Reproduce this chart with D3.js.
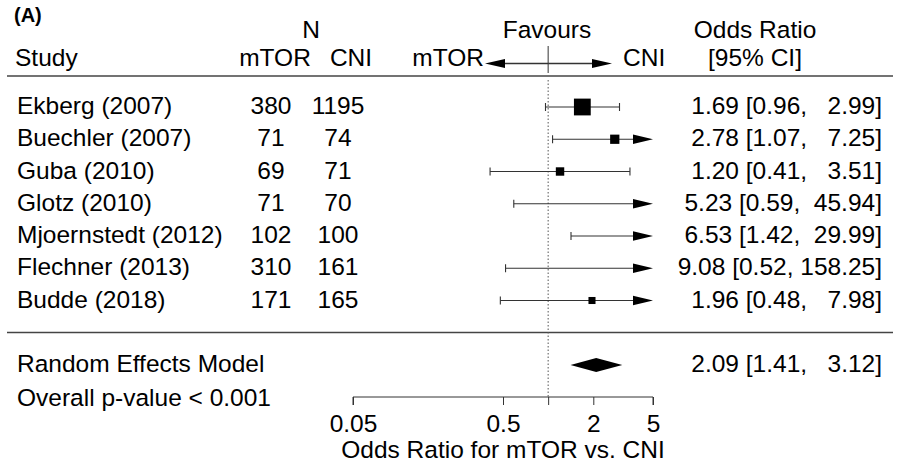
<!DOCTYPE html>
<html><head><meta charset="utf-8">
<script src="https://cdn.jsdelivr.net/npm/d3@7"></script>
<style>
body{margin:0;background:#fff;}
svg text{font-family:"Liberation Sans",Arial,Helvetica,sans-serif;fill:#000;}
</style></head>
<body><svg id="c" width="898" height="465"></svg>
<script>
// ---- data ----
const studies = ["Ekberg (2007)","Buechler (2007)","Guba (2010)","Glotz (2010)","Mjoernstedt (2012)","Flechner (2013)","Budde (2018)"];
const nMTOR = [380,71,69,71,102,310,171];
const nCNI = [1195,74,71,70,100,161,165];
const oddsRatio = [1.69,2.78,1.20,5.23,6.53,9.08,1.96];
const ciLower = [0.96,1.07,0.41,0.59,1.42,0.52,0.48];
const ciUpper = [2.99,7.25,3.51,45.94,29.99,158.25,7.98];
const pooled = {label:"Random Effects Model", or:2.09, lo:1.41, hi:3.12};
const pValueText = "Overall p-value < 0.001";
const axisTicks = [0.05,0.5,1,2,5];
const axisTickLabels = ["0.05","0.5","","2","5"];
const axisTitle = "Odds Ratio for mTOR vs. CNI";

// ---- layout ----
const svg = d3.select("#c");
const FS = 24.5;
const x = d3.scaleLog().domain([0.05,5]).range([353,653]);
const y = d3.scaleLinear().domain([0,6]).range([107,300.5]);
const lineCol = "#333";
const BL = 7; // baseline offset from row centre

function txt(t, xx, yy, anchor, opts={}) {
  const el = svg.append("text").attr("x",xx).attr("y",yy).attr("text-anchor",anchor||"start")
    .attr("font-size",opts.size||FS).text(t);
  if (opts.bold) el.attr("font-weight","bold");
  if (opts.pre) el.style("white-space","pre");
  return el;
}

// header
txt("(A)",14,22,"start",{bold:true,size:20});
txt("N",311,38,"middle");
txt("Study",15,66);
txt("mTOR",275,66,"middle");
txt("CNI",351,66,"middle");
txt("Favours",547,38,"middle");
txt("mTOR",484,66,"end");
txt("CNI",623,66,"start");
txt("Odds Ratio",755,38,"middle");
txt("[95% CI]",755,66,"middle");

// favours arrows
const ay = 63.5, hx = x(1);
svg.append("line").attr("x1",hx).attr("x2",hx).attr("y1",46).attr("y2",73).attr("stroke",lineCol).attr("stroke-width",1);
svg.append("line").attr("x1",hx).attr("x2",500).attr("y1",ay).attr("y2",ay).attr("stroke",lineCol).attr("stroke-width",1.3);
svg.append("line").attr("x1",hx).attr("x2",595).attr("y1",ay).attr("y2",ay).attr("stroke",lineCol).attr("stroke-width",1.3);
svg.append("path").attr("d",`M485,${ay} L505,${ay-4.5} L505,${ay+4.5} Z`).attr("fill","#000");
svg.append("path").attr("d",`M612,${ay} L592,${ay-4.5} L592,${ay+4.5} Z`).attr("fill","#000");

// separator lines
svg.append("line").attr("x1",7).attr("x2",893).attr("y1",76).attr("y2",76).attr("stroke","#444").attr("stroke-width",1.5);
svg.append("line").attr("x1",7).attr("x2",893).attr("y1",332.5).attr("y2",332.5).attr("stroke","#444").attr("stroke-width",1.5);

// reference line
svg.append("line").attr("x1",x(1)).attr("x2",x(1)).attr("y1",80).attr("y2",397)
  .attr("stroke","#555").attr("stroke-width",1).attr("stroke-dasharray","1.5,2");

// marker sizes from inverse variance
const wts = ciLower.map((lo,i)=>{const se=(Math.log(ciUpper[i])-Math.log(lo))/3.92; return 1/(se*se);});
const sz = d3.scaleLinear().domain(d3.extent(wts)).range([5.6,16.8]);
const [xmin,xmax] = x.domain();
const fmt = d3.format(".2f");
const pad = (s,w)=>" ".repeat(Math.max(0,w-s.length))+s;

studies.forEach((s,i)=>{
  const yy = y(i);
  txt(s,17,yy+BL,"start");
  txt(String(nMTOR[i]),271,yy+BL,"middle");
  txt(String(nCNI[i]),338,yy+BL,"middle");
  const lo = Math.max(ciLower[i],xmin), hi = Math.min(ciUpper[i],xmax);
  const arrowR = ciUpper[i]>xmax;
  const x1 = x(lo), x2 = x(hi);
  svg.append("line").attr("x1",x1).attr("x2",arrowR?x2-18:x2).attr("y1",yy).attr("y2",yy).attr("stroke",lineCol).attr("stroke-width",1.1);
  if (ciLower[i]>=xmin) svg.append("line").attr("x1",x1).attr("x2",x1).attr("y1",yy-4).attr("y2",yy+4).attr("stroke",lineCol).attr("stroke-width",1.1);
  if (!arrowR) svg.append("line").attr("x1",x2).attr("x2",x2).attr("y1",yy-4).attr("y2",yy+4).attr("stroke",lineCol).attr("stroke-width",1.1);
  else svg.append("path").attr("d",`M${x2},${yy} L${x2-20},${yy-4.8} L${x2-20},${yy+4.8} Z`).attr("fill","#000");
  if (oddsRatio[i]<=xmax) {
    const s2 = sz(wts[i]);
    svg.append("rect").attr("x",x(oddsRatio[i])-s2/2).attr("y",yy-s2/2).attr("width",s2).attr("height",s2).attr("fill","#000");
  }
  const label = `${fmt(oddsRatio[i])} [${fmt(ciLower[i])}, ${pad(fmt(ciUpper[i]),6)}]`;
  txt(label,882,yy+BL,"end",{pre:true});
});

// pooled
const py = 365;
txt(pooled.label,17,py+BL,"start");
txt(pValueText,17,406,"start");
svg.append("path").attr("d",`M${x(pooled.lo)},${py} L${x(pooled.or)},${py-7} L${x(pooled.hi)},${py} L${x(pooled.or)},${py+7} Z`).attr("fill","#000");
txt(`${fmt(pooled.or)} [${fmt(pooled.lo)}, ${pad(fmt(pooled.hi),6)}]`,882,py+BL,"end",{pre:true});

// axis
const axis = d3.axisBottom(x).tickValues(axisTicks).tickFormat((d,i)=>axisTickLabels[i]).tickSize(8).tickPadding(0);
const g = svg.append("g").attr("transform","translate(0,397)").call(axis);
g.select(".domain").attr("stroke",lineCol).attr("d",`M${x(xmin)},8V0H${x(xmax)}V8`);
g.selectAll(".tick line").attr("stroke",lineCol);
g.selectAll(".tick text").attr("font-size",FS).attr("font-family","Liberation Sans, Arial, sans-serif").attr("fill","#000")
  .attr("dy",null).attr("y",35);
txt(axisTitle,503,458,"middle");
</script></body></html>
